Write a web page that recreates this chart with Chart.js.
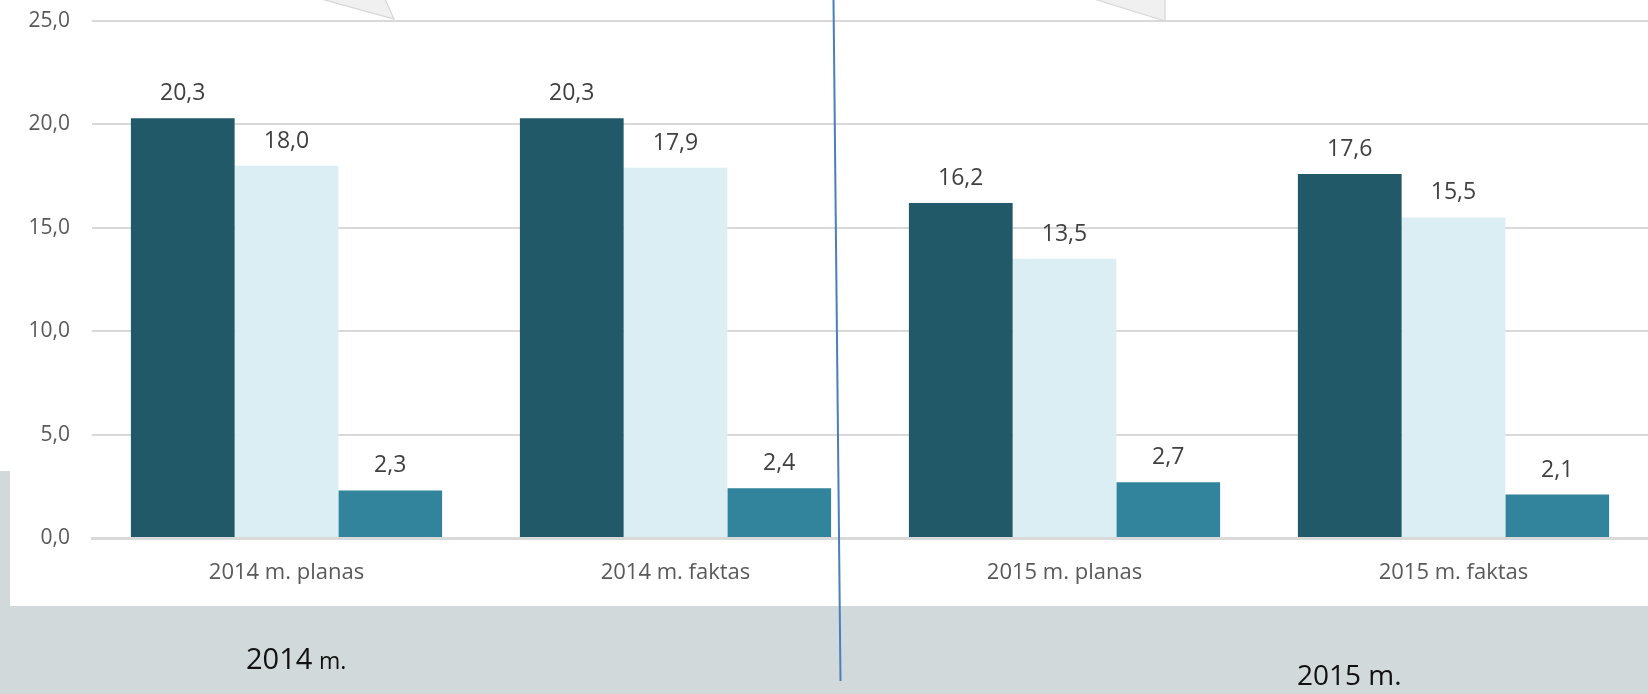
<!DOCTYPE html>
<html>
<head>
<meta charset="utf-8">
<script src="https://cdn.jsdelivr.net/npm/chart.js@4"></script>
<style>
  html, body { margin: 0; padding: 0; background: #ffffff; }
  #wrap { position: relative; width: 1648px; height: 694px; }
</style>
</head>
<body>
<div id="wrap"><canvas id="chart" width="1648" height="694"></canvas></div>
<script>
// data
const categories = ['2014 m. planas', '2014 m. faktas', '2015 m. planas', '2015 m. faktas'];
const series1 = [20.3, 20.3, 16.2, 17.6];
const series2 = [18.0, 17.9, 13.5, 15.5];
const series3 = [2.3, 2.4, 2.7, 2.1];
const yTicks = [0, 5, 10, 15, 20, 25];
const periodLabels = ['2014', '2015'];

const fmt = v => v.toFixed(1).replace('.', ',');
const FONT = "'Open Sans', sans-serif";

// white panel on the grey band behind the chart
const backdrop = {
    id: 'backdrop',
    beforeDraw(chart) {
        const ctx = chart.ctx;
        ctx.save();
        ctx.fillStyle = '#d2d9da';
        ctx.fillRect(0, 471, 1648, 223);
        ctx.fillStyle = '#ffffff';
        ctx.fillRect(10, 0, 1638, 606);
        ctx.restore();
    }
};

// value labels above each bar
const valueLabels = {
    id: 'valueLabels',
    afterDatasetsDraw(chart) {
        const ctx = chart.ctx;
        ctx.save();
        ctx.font = '23px ' + FONT;
        ctx.fillStyle = '#404040';
        ctx.textAlign = 'center';
        ctx.textBaseline = 'alphabetic';
        chart.data.datasets.forEach((ds, i) => {
            chart.getDatasetMeta(i).data.forEach((bar, j) => {
                ctx.fillText(fmt(ds.data[j]), bar.x, bar.y - 18);
            });
        });
        ctx.restore();
    }
};

// divider line, callout tails and period captions
const decorations = {
    id: 'decorations',
    afterDraw(chart) {
        const ctx = chart.ctx;
        ctx.save();
        ctx.fillStyle = '#f0f0f0';
        ctx.strokeStyle = '#d6d6d6';
        ctx.lineWidth = 1.2;
        ctx.beginPath();
        ctx.moveTo(321, -1); ctx.lineTo(385, -1); ctx.lineTo(394, 19); ctx.closePath();
        ctx.fill(); ctx.stroke();
        ctx.beginPath();
        ctx.moveTo(1094, -1); ctx.lineTo(1165, -1); ctx.lineTo(1165, 21); ctx.closePath();
        ctx.fill(); ctx.stroke();

        ctx.strokeStyle = '#4a7ebd';
        ctx.lineWidth = 2;
        ctx.beginPath();
        ctx.moveTo(833.5, 0);
        ctx.lineTo(840.5, 681);
        ctx.stroke();

        ctx.fillStyle = '#111111';
        ctx.textAlign = 'left';
        ctx.textBaseline = 'alphabetic';
        ctx.font = '29px ' + FONT;
        ctx.fillText(periodLabels[0], 246, 669);
        ctx.font = '23px ' + FONT;
        ctx.fillText('m.', 319, 669);
        ctx.font = '28px ' + FONT;
        ctx.fillText(periodLabels[1] + ' m.', 1297, 685);
        ctx.restore();
    }
};

new Chart(document.getElementById('chart').getContext('2d'), {
    type: 'bar',
    data: {
        labels: categories,
        datasets: [
            { label: 'Serija 1', data: series1, backgroundColor: '#215968' },
            { label: 'Serija 2', data: series2, backgroundColor: '#dbeef4' },
            { label: 'Serija 3', data: series3, backgroundColor: '#31849b' }
        ]
    },
    options: {
        responsive: false,
        animation: false,
        layout: { padding: { left: 0, right: 0, top: 21, bottom: 0 } },
        datasets: { bar: { categoryPercentage: 0.8, barPercentage: 1.0 } },
        plugins: {
            legend: { display: false },
            tooltip: { enabled: false }
        },
        scales: {
            x: {
                grid: { display: false, drawTicks: false },
                border: { display: true, color: '#d9d9d9', width: 3 },
                ticks: { color: '#595959', font: { family: FONT, size: 22 }, padding: 22 },
                afterFit(scale) { scale.height = 156; }
            },
            y: {
                min: 0,
                max: 25,
                afterBuildTicks(scale) { scale.ticks = yTicks.map(v => ({ value: v })); },
                grid: { color: '#d9d9d9', lineWidth: 2, drawTicks: false },
                border: { display: false },
                ticks: {
                    color: '#595959',
                    font: { family: FONT, size: 21 },
                    padding: 22,
                    callback: v => fmt(v)
                },
                afterFit(scale) {
                    scale.width = 92;
                    scale.paddingTop = 0;
                    scale.paddingBottom = 0;
                }
            }
        }
    },
    plugins: [backdrop, valueLabels, decorations]
});
</script>
</body>
</html>
